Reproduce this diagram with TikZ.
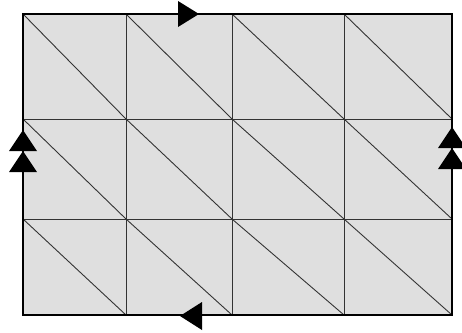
\documentclass[tikz,border=0pt]{standalone}
\begin{document}
\begin{tikzpicture}[x=1pt,y=-1pt,
  meshline/.style={black!80,line width=0.9pt},
  frame/.style={black,line width=2.8pt,line join=miter},
  tip/.style={fill=black}]
\useasboundingbox (0,0) rectangle (462,332);
% column and row positions of the triangulated mesh
\def\xs{{23,126,232,344,452}}
\def\ys{{14,119,219,315}}
\fill[gray!25] (23,14) rectangle (452,315);
% interior grid lines
\foreach \x in {126,232,344} \draw[meshline] (\x,14) -- (\x,315);
\foreach \y in {119,219} \draw[meshline] (23,\y) -- (452,\y);
% diagonals of every cell
\foreach \i in {0,1,2,3}{
  \foreach \j in {0,1,2}{
    \pgfmathsetmacro{\xa}{\xs[\i]}
    \pgfmathsetmacro{\xb}{\xs[\i+1]}
    \pgfmathsetmacro{\ya}{\ys[\j]}
    \pgfmathsetmacro{\yb}{\ys[\j+1]}
    \draw[meshline] (\xa,\ya) -- (\xb,\yb);
  }
}
% boundary
\draw[frame] (23,14) rectangle (452,315);
% orientation marks on the boundary
\fill[tip] (178,1) -- (199,14) -- (178,27) -- cycle;
\fill[tip] (202,302) -- (180,316) -- (202,330) -- cycle;
\fill[tip] (9,151) -- (23,130) -- (37,151) -- cycle;
\fill[tip] (9,172) -- (23,151) -- (37,172) -- cycle;
\fill[tip] (438,148) -- (452,127) -- (466,148) -- cycle;
\fill[tip] (438,169) -- (452,148) -- (466,169) -- cycle;
\end{tikzpicture}
\end{document}
